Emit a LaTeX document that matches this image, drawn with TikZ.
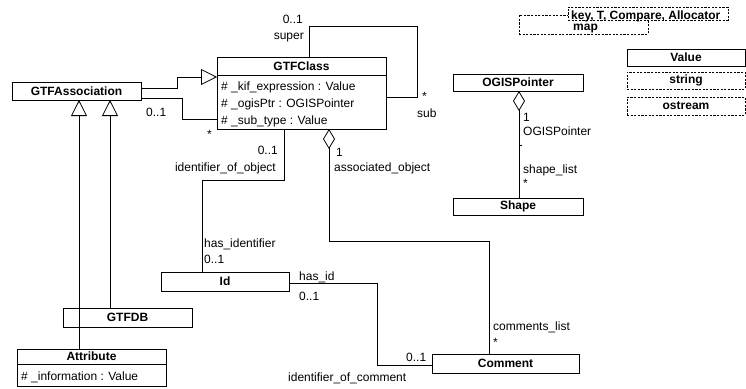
\documentclass[tikz,border=0pt]{standalone}
\usepackage{fontspec}
\setmainfont{Liberation Sans}
\usetikzlibrary{arrows.meta}
\begin{document}
\begin{tikzpicture}[x=1pt,y=-1pt,
  lbl/.style={font=\fontsize{12}{14}\selectfont, inner sep=0pt},
  bold/.style={font=\fontsize{12}{14}\selectfont\bfseries, inner sep=0pt},
  box/.style={draw, line width=0.8pt, outer sep=0pt, inner sep=0pt, anchor=north west, font=\fontsize{12}{14}\selectfont\bfseries},
  dbox/.style={box, dash pattern=on 2.2pt off 1.4pt, line width=0.6pt},
  conn/.style={line width=0.8pt},
  gen/.style={conn, -{Triangle[open,length=16pt,width=16pt,line width=0.8pt]}},
  agg/.style={conn, {Diamond[open,length=20pt,width=12pt,line width=0.8pt]}-},
]
\useasboundingbox (0,0) rectangle (746,388);

% ---- classes ----
\node[box, minimum width=169pt, minimum height=72pt] (gtfclass) at (217,57) {};
\draw[line width=0.8pt] ([yshift=-18pt]gtfclass.north west) -- ([yshift=-18pt]gtfclass.north east);
\node[bold] (gtfclassname) at (301.5,66) {GTFClass};
\node[lbl, anchor=base west] (attrkif) at (221,90) {\# \_kif\_expression : Value};
\node[lbl, anchor=base west] (attrogis) at (221,107) {\# \_ogisPtr : OGISPointer};
\node[lbl, anchor=base west] (attrsub) at (221,124) {\# \_sub\_type : Value};

\node[box, minimum width=129pt, minimum height=18pt] (gtfassoc) at (12,82) {GTFAssociation};
\node[box, minimum width=129pt, minimum height=19pt] (gtfdb) at (63,308) {GTFDB};

\node[box, minimum width=149pt, minimum height=37pt] (attribute) at (17,349) {};
\draw[line width=0.8pt] ([yshift=-15pt]attribute.north west) -- ([yshift=-15pt]attribute.north east);
\node[bold] (attributename) at (91.5,356.5) {Attribute};
\node[lbl, anchor=base west] (attrinfo) at (21,380) {\# \_information : Value};

\node[box, minimum width=128pt, minimum height=19pt] (id) at (161,272) {Id};
\node[box, minimum width=147pt, minimum height=19pt] (comment) at (432,354) {Comment};
\node[box, minimum width=130pt, minimum height=17pt] (ogisptr) at (453,74) {OGISPointer};
\node[box, minimum width=130pt, minimum height=17pt] (shape) at (453,198) {Shape};

\node[box, minimum width=118pt, minimum height=17pt] (value) at (627,49) {Value};
\node[dbox, minimum width=118pt, minimum height=17pt] (string) at (627,72) {string};
\node[dbox, minimum width=118pt, minimum height=18pt] (ostream) at (627,97) {ostream};

\node[dbox, minimum width=129pt, minimum height=19pt] (map) at (519,15) {};
\node[dbox, fill=white, minimum width=160pt, minimum height=13pt] (tmpl) at (568,7) {};
\node[bold, anchor=base west] (tmpltext) at (571,19) {key, T, Compare, Allocator};
\node[bold, anchor=base west] (mapname) at (573,30) {map};

% ---- connectors ----
\draw[gen] (gtfassoc.east |- 0,88) -- (177,88) -- (177,77) -- (gtfclass.west |- 0,77);
\draw[conn] (gtfassoc.east |- 0,98) -- (182,98) -- (182,119) -- (gtfclass.west |- 0,119);
\draw[gen] (attribute.north -| 79,0) -- (gtfassoc.south -| 79,0);
\draw[gen] (gtfdb.north -| 110,0) -- (gtfassoc.south -| 110,0);
\draw[conn] (gtfclass.north -| 309,0) -- (309,26) -- (417,26) -- (417,97) -- (gtfclass.east |- 0,97);
\draw[conn] (gtfclass.south -| 284,0) -- (284,180) -- (202,180) -- (id.north -| 202,0);
\draw[agg] (gtfclass.south -| 329,0) -- (329,241) -- (489,241) -- (comment.north -| 489,0);
\draw[conn] (id.east |- 0,283) -- (377,283) -- (377,365) -- (comment.west |- 0,365);
\draw[agg] (ogisptr.south -| 519,0) -- (shape.north -| 519,0);
\coordinate (tickend) at (522,145);
\draw[conn] (519,145) -- (tickend);

% ---- labels ----
\node[lbl, anchor=base west] (l1) at (146,116) {0..1};
\node[lbl, anchor=base west] (l2) at (207,138) {*};
\node[lbl, anchor=base east] (l3) at (303,23) {0..1};
\node[lbl, anchor=base east] (l4) at (304,39) {super};
\node[lbl, anchor=base west] (l5) at (422,100) {*};
\node[lbl, anchor=base west] (l6) at (417,117) {sub};
\node[lbl, anchor=base east] (l7) at (278,154) {0..1};
\node[lbl, anchor=base east] (l8) at (276,171) {identifier\_of\_object};
\node[lbl, anchor=base west] (l9) at (204,247) {has\_identifier};
\node[lbl, anchor=base west] (l10) at (204,263) {0..1};
\node[lbl, anchor=base west] (l11) at (336,156) {1};
\node[lbl, anchor=base west] (l12) at (334,171) {associated\_object};
\node[lbl, anchor=base west] (l13) at (299,280) {has\_id};
\node[lbl, anchor=base west] (l14) at (299,300) {0..1};
\node[lbl, anchor=base west] (l15) at (406,361) {0..1};
\node[lbl, anchor=base west] (l16) at (288,381) {identifier\_of\_comment};
\node[lbl, anchor=base west] (l17) at (493,330) {comments\_list};
\node[lbl, anchor=base west] (l18) at (493,346) {*};
\node[lbl, anchor=base west] (l19) at (523,121) {1};
\node[lbl, anchor=base west] (l20) at (523,135) {OGISPointer};
\node[lbl, anchor=base west] (l21) at (523,173) {shape\_list};
\node[lbl, anchor=base west] (l22) at (523,187) {*};
\end{tikzpicture}
\end{document}
